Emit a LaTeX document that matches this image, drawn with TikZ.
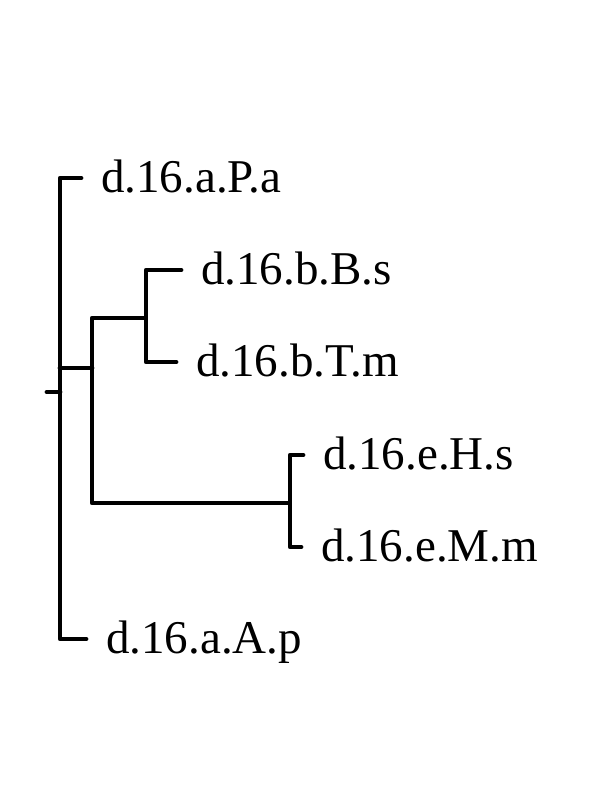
\documentclass[tikz,border=0pt]{standalone}
\usepackage{fontspec}
\setmainfont{Liberation Serif}
\usetikzlibrary{positioning}

\begin{document}
\begin{tikzpicture}[%
        x=1bp, y=-1bp,
        branch/.style={
            line width=4.8bp,
            line cap=round,
            line join=round,
            draw=black,
        },
        tip/.style={
            inner sep=0pt,
            font=\fontsize{47bp}{51bp}\selectfont,
            text height=28bp,
            text depth=0pt,
        },
        node distance=20bp
    ]
    \useasboundingbox (0,0) rectangle (612,792);

    % inner nodes
    \coordinate (stub) at (47,392);
    \coordinate (root) at (60,392);
    \coordinate (inA) at (92,368);
    \coordinate (inB) at (146,318);
    \coordinate (inE) at (290,503);

    % leaf ends
    \coordinate (leafPa) at (81,178);
    \coordinate (leafBs) at (181,270);
    \coordinate (leafTm) at (176,362);
    \coordinate (leafHs) at (303,455);
    \coordinate (leafMm) at (301,547);
    \coordinate (leafAp) at (86,639);

    \draw[branch] (stub) -- (root);
    \draw[branch] (leafPa) -| (root) |- (leafAp);
    \draw[branch] (root |- inA) -- (inA);
    \draw[branch] (inA) |- (inB) |- (leafBs);
    \draw[branch] (inB) |- (leafTm);
    \draw[branch] (inA) |- (inE) |- (leafHs);
    \draw[branch] (inE) |- (leafMm);

    \node[tip, right=of leafPa] (labPa) {d.16.a.P.a};
    \node[tip, right=of leafBs] (labBs) {d.16.b.B.s};
    \node[tip, right=of leafTm] (labTm) {d.16.b.T.m};
    \node[tip, right=of leafHs] (labHs) {d.16.e.H.s};
    \node[tip, right=of leafMm] (labMm) {d.16.e.M.m};
    \node[tip, right=of leafAp] (labAp) {d.16.a.A.p};

\end{tikzpicture}
\end{document}
